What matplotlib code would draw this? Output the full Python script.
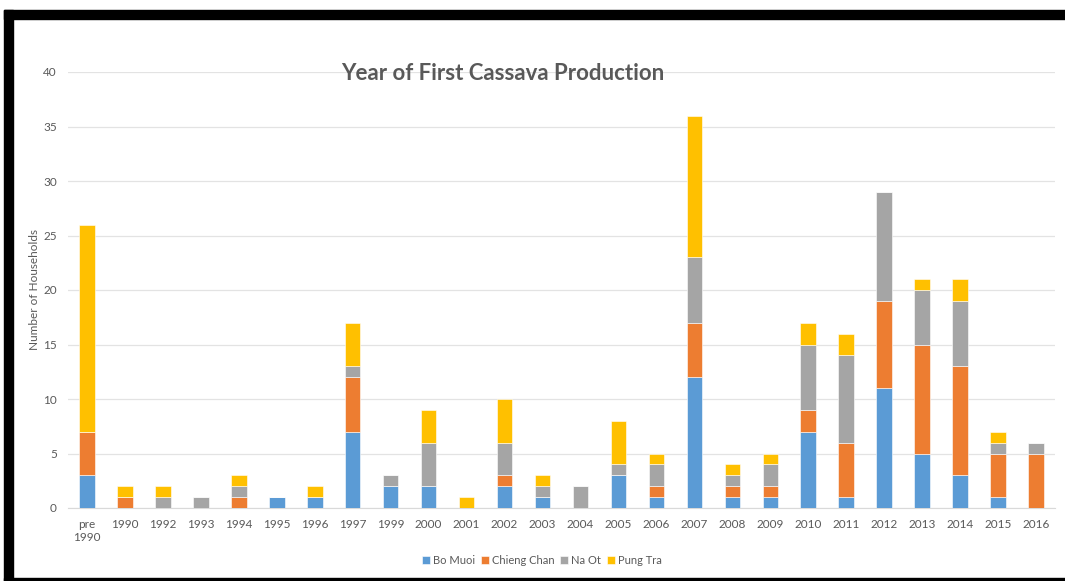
import matplotlib
matplotlib.use('Agg')
import matplotlib.pyplot as plt
from matplotlib.patches import Rectangle
import numpy as np

plt.rcParams['font.family'] = ['Lato', 'DejaVu Sans']

years = ['pre\n1990', '1990', '1992', '1993', '1994', '1995', '1996', '1997',
         '1999', '2000', '2001', '2002', '2003', '2004', '2005', '2006', '2007',
         '2008', '2009', '2010', '2011', '2012', '2013', '2014', '2015', '2016']

bo_muoi     = [3, 0, 0, 0, 0, 1, 1, 7, 2, 2, 0, 2, 1, 0, 3, 1, 12, 1, 1, 7, 1, 11, 5, 3, 1, 0]
chieng_chan = [4, 1, 0, 0, 1, 0, 0, 5, 0, 0, 0, 1, 0, 0, 0, 1, 5, 1, 1, 2, 5, 8, 10, 10, 4, 5]
na_ot       = [0, 0, 1, 1, 1, 0, 0, 1, 1, 4, 0, 3, 1, 2, 1, 2, 6, 1, 2, 6, 8, 10, 5, 6, 1, 1]
pung_tra    = [19, 1, 1, 0, 1, 0, 1, 4, 0, 3, 1, 4, 1, 0, 4, 1, 13, 1, 1, 2, 2, 0, 1, 2, 1, 0]

series = [('Bo Muoi', bo_muoi, '#5B9BD5'),
          ('Chieng Chan', chieng_chan, '#ED7D31'),
          ('Na Ot', na_ot, '#A5A5A5'),
          ('Pung Tra', pung_tra, '#FFC000')]

W, H = 1065, 581
fig = plt.figure(figsize=(W / 100, H / 100), dpi=100)
ax = fig.add_axes([68 / W, 1 - 508 / H, (1055 - 68) / W, (508 - 72) / H])

x = np.arange(len(years))
bottom = np.zeros(len(years))
for name, vals, col in series:
    ax.bar(x, vals, width=0.41, bottom=bottom, color=col, label=name,
           edgecolor='white', linewidth=0.4, zorder=3)
    bottom += np.array(vals)

ax.set_xlim(-0.5, len(years) - 0.5)
ax.set_ylim(0, 40)
ax.set_yticks(range(0, 41, 5))
ax.set_xticks(x)
ax.set_xticklabels(years)
ax.grid(axis='y', color='#E3E3E3', linewidth=0.9, zorder=0)
for s in ['top', 'right', 'left']:
    ax.spines[s].set_visible(False)
ax.spines['bottom'].set_color('#D9D9D9')
ax.tick_params(length=0, labelsize=8.5, colors='#595959')
ax.tick_params(axis='x', pad=8)
ax.tick_params(axis='y', pad=8)

# y label placed by hand, close to the tick labels as in the original
fig.text(35 / W, 1 - 290 / H, 'Number of Households', rotation=90,
         ha='center', va='center', fontsize=8.5, color='#595959')

fig.text(503 / W, 1 - 73 / H, 'Year of First Cassava Production', ha='center',
         va='center', fontsize=16, fontweight='bold', color='#595959')

leg = fig.legend(loc='center', bbox_to_anchor=(542 / W, 1 - 560 / H), ncol=4,
                 frameon=False, fontsize=8, handlelength=0.7, handleheight=0.7,
                 handletextpad=0.3, columnspacing=0.5)
for t in leg.get_texts():
    t.set_color('#595959')

# black frame around the chart
frame = [(4, 10, W - 4, 9), (4, 10, 9, H - 10), (4, 578, W - 4, 3)]
for x0, y0, w, h in frame:
    fig.patches.append(Rectangle((x0 / W, 1 - (y0 + h) / H), w / W, h / H,
                                 transform=fig.transFigure, color='black',
                                 zorder=10))

fig.savefig('out.png', dpi=100)
